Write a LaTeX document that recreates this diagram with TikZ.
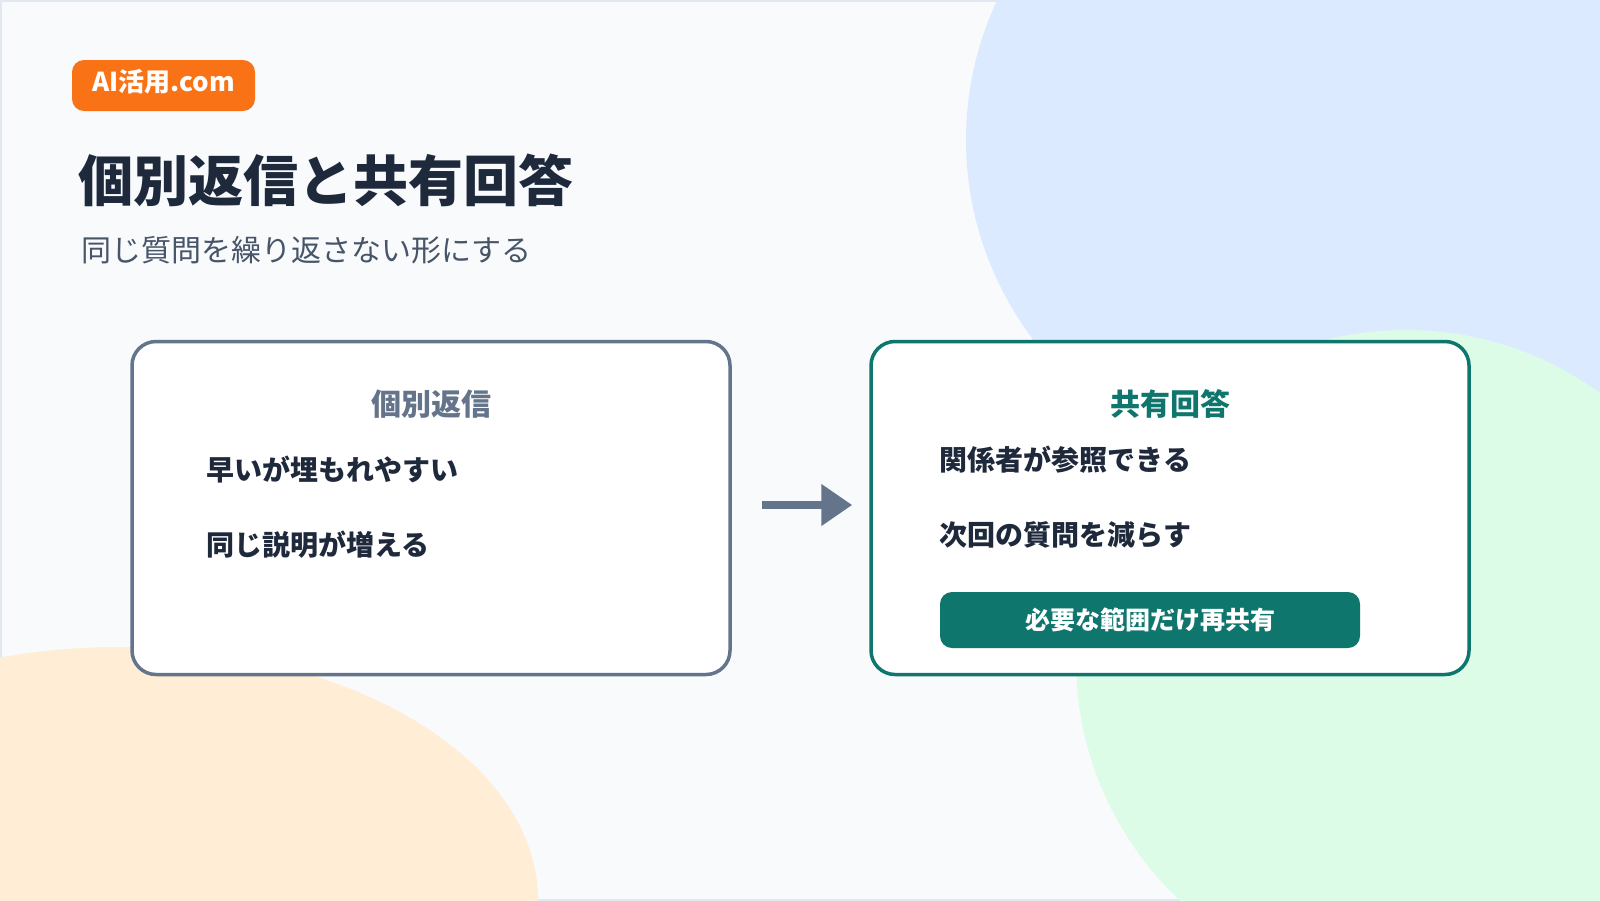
\documentclass[tikz,border=0pt]{standalone}
\usepackage{fontspec}
\setmainfont{Noto Sans CJK JP}
\usetikzlibrary{arrows.meta}

\definecolor{pagebg}{HTML}{F8FAFC}
\definecolor{pageedge}{HTML}{E2E8F0}
\definecolor{blobblue}{HTML}{DBEAFE}
\definecolor{blobgreen}{HTML}{DCFCE7}
\definecolor{blobpeach}{HTML}{FFEDD5}
\definecolor{badgeorange}{HTML}{F97316}
\definecolor{ink}{HTML}{1E293B}
\definecolor{subtle}{HTML}{475569}
\definecolor{slate}{HTML}{64748B}
\definecolor{teal}{HTML}{0F766E}

\begin{document}
\begin{tikzpicture}[x=1pt, y=-1pt, inner sep=0pt,
	card/.style={draw, line width=3.5pt, fill=white, rounded corners=24pt,
		minimum width=598pt, minimum height=333pt},
	cardtitle/.style={font=\bfseries\fontsize{30}{36}\selectfont},
	item/.style={anchor=west, text=ink, font=\bfseries\fontsize{28}{34}\selectfont},
	arrowline/.style={slate, line width=8pt, -{Triangle[length=31pt, width=40pt]}}
	]
	\useasboundingbox (0,0) rectangle (1600,900);
	% background and blobs
	\fill[pagebg, draw=pageedge, line width=3pt] (0,0) rectangle (1600,900);
	\begin{scope}
		\clip (0,0) rectangle (1600,900);
		\fill[blobblue] (1351,140) ellipse (385 and 354);
		\fill[blobgreen] (1406,660) circle (330);
		\fill[blobpeach] (120,900) ellipse (418 and 253);
	\end{scope}

	\node[fill=badgeorange, rounded corners=12pt, minimum width=183pt, minimum height=51pt] (badge) at (163.5,85.5) {};
	\node[text=white, font=\bfseries\fontsize{26}{30}\selectfont, yshift=3.5pt] (badgetext) at (badge) {AI活用.com};
	\node[anchor=west, text=ink, font=\bfseries\fontsize{55}{62}\selectfont] (title) at (78,180) {個別返信と共有回答};
	\node[anchor=west, text=subtle, font=\fontsize{30}{36}\selectfont] (subtitle) at (81,250) {同じ質問を繰り返さない形にする};

	% individual replies
	\node[card, draw=slate] (lbox) at (431,508) {};
	\node[cardtitle, text=slate] (lhead) at (431,404) {個別返信};
	\node[item] (litem1) at (206,470) {早いが埋もれやすい};
	\node[item] (litem2) at (206,545) {同じ説明が増える};

	% shared answers
	\node[card, draw=teal] (rbox) at (1170,508) {};
	\node[cardtitle, text=teal] (rhead) at (1170,404) {共有回答};
	\node[item] (ritem1) at (939.5,460) {関係者が参照できる};
	\node[item] (ritem2) at (939.5,535) {次回の質問を減らす};
	\node[fill=teal, rounded corners=12pt, minimum width=420pt, minimum height=56pt,
		text=white, font=\bfseries\fontsize{25}{30}\selectfont] (share) at (1150,620) {必要な範囲だけ再共有};

	\draw[arrowline, shorten <=30pt, shorten >=17pt] ([yshift=3pt]lbox.east) -- ([yshift=3pt]rbox.west);
\end{tikzpicture}
\end{document}
